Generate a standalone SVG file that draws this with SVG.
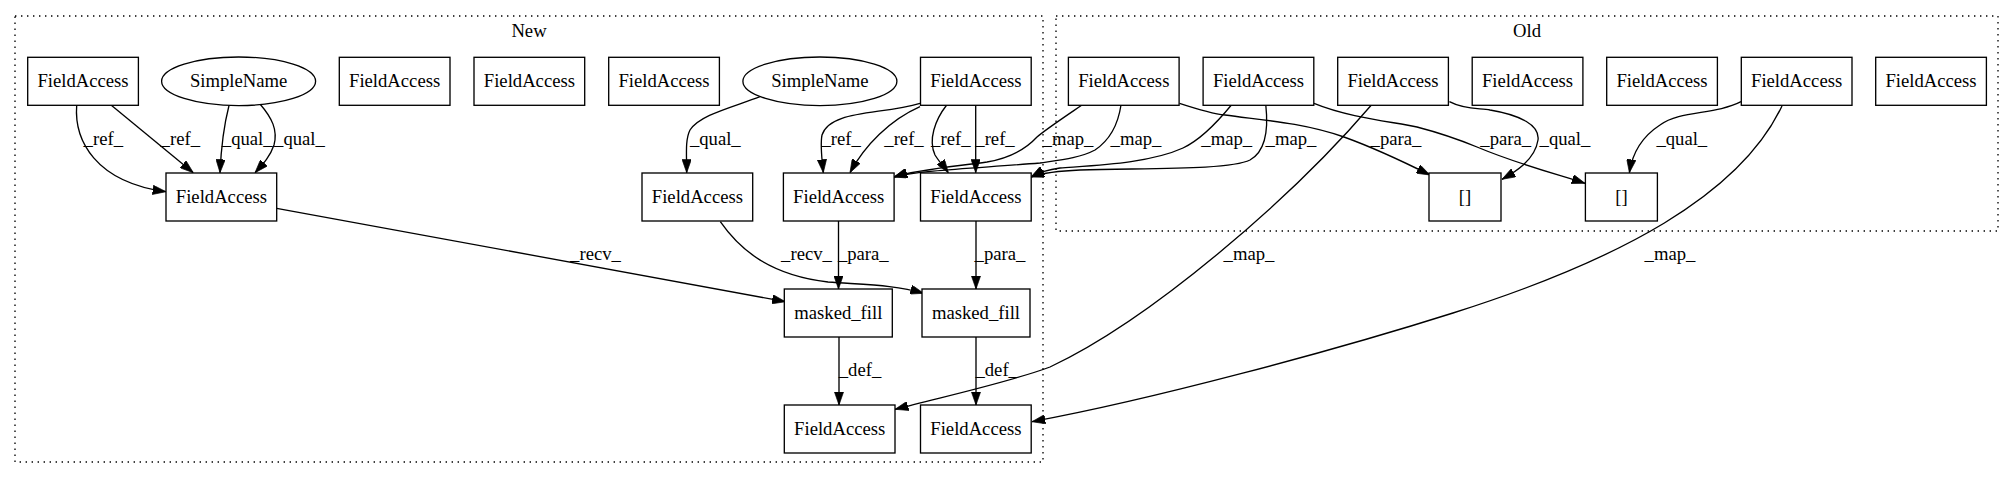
<svg xmlns="http://www.w3.org/2000/svg" width="2015" height="480" viewBox="0 0 2015 480">
<style>
  .n { fill: #fff; stroke: #000; stroke-width: 1.33; }
  .t { font-family: "Liberation Serif", Times, serif; font-size: 18.67px; text-anchor: middle; fill: #000; }
  .e { fill: none; stroke: #000; stroke-width: 1.33; marker-end: url(#ah); }
  .c { fill: none; stroke: #000; stroke-width: 1.33; stroke-dasharray: 1.4,4.6; }
</style>
<defs>
  <marker id="ah" viewBox="0 0 10 7" refX="10" refY="3.5" markerWidth="13.3" markerHeight="9.3" markerUnits="userSpaceOnUse" orient="auto">
    <path d="M0,0 L10,3.5 L0,7 z" fill="#000" stroke="#000" stroke-width="0.5"/>
  </marker>
</defs>
<rect width="2015" height="480" fill="#fff"/>

<g id="cluster_new">
  <rect class="c" x="15" y="16" width="1028" height="446"/>
  <text class="t" x="529" y="36.5">New</text>
</g>
<g id="cluster_old">
  <rect class="c" x="1056" y="16" width="942" height="215"/>
  <text class="t" x="1527" y="36.5">Old</text>
</g>

<g id="connectors">
  <path class="e" d="M76.7,105 C74,140 95,182 166,191.7"/>
  <path class="e" d="M111,105 L193.3,172.7"/>
  <path class="e" d="M229,105.5 C224,125 221,150 220,172.7"/>
  <path class="e" d="M260,104 C272,118 278,130 274,145 C270,157 262,165 255,172.7"/>
  <path class="e" d="M760,96.7 C730,108 700,115 690,130 C685,140 686.7,155 686.7,172.7"/>
  <path class="e" d="M920,103.3 C880,115 830,110 822,135 C820,145 822,160 823.3,172.7"/>
  <path class="e" d="M920,106.7 C890,120 865,145 850,172.7"/>
  <path class="e" d="M946.7,105 C935,120 928,140 935,155 C940,163 945,168 948.3,172.7"/>
  <path class="e" d="M975.7,105 L975.7,172.7"/>
  <path class="e" d="M276.7,208.3 L785.4,301.7"/>
  <path class="e" d="M720.3,221.7 C740,250 770,275 828,282 C870,285 895,285 923.6,293.3"/>
  <path class="e" d="M838.5,221 L838.5,289"/>
  <path class="e" d="M976,221 L976,289"/>
  <path class="e" d="M839,337 L839,405"/>
  <path class="e" d="M976,337 L976,405"/>
  <path class="e" d="M1082,105 C1060,120 1045,130 1037,137 C1025,150 1010,158 987,162 C950,167 915,170 894,177"/>
  <path class="e" d="M1121,105 C1118,125 1110,140 1095,150 C1080,158 1060,160 1040,163 C980,168 920,170 894,177"/>
  <path class="e" d="M1231.4,105 C1215,125 1200,140 1183,148 C1150,163 1100,165 1060,168 C1045,170 1038,173 1031,177"/>
  <path class="e" d="M1265.8,105 C1268,125 1268,150 1250,160 C1230,170 1150,168 1080,170 C1055,171 1040,174 1031,177"/>
  <path class="e" d="M1179.5,103.3 C1200,110 1215,114 1225,115 C1260,120 1300,122 1344,137 C1380,150 1410,165 1430,175"/>
  <path class="e" d="M1314,103.3 C1350,118 1395,122 1417,127 C1440,133 1460,140 1477,147 C1520,165 1560,175 1585,183.3"/>
  <path class="e" d="M1449.4,101.7 C1465,110 1480,108 1490,110 C1520,115 1540,125 1538,140 C1535,160 1515,172 1502,179.3"/>
  <path class="e" d="M1741,101.7 C1715,115 1680,110 1660,125 C1640,138 1632,155 1629.4,172.7"/>
  <path class="e" d="M1371.4,105 C1290,200 1150,320 1050,367 C1010,382 950,395 895,409.3"/>
  <path class="e" d="M1782,106 C1740,195 1620,260 1453,313 C1333,351 1150,400 1032,421.7"/>

  <text class="t" x="103.3" y="145">_ref_</text>
  <text class="t" x="180.3" y="145">_ref_</text>
  <text class="t" x="247.2" y="145">_qual_</text>
  <text class="t" x="299.5" y="145">_qual_</text>
  <text class="t" x="715.3" y="145">_qual_</text>
  <text class="t" x="841.2" y="145">_ref_</text>
  <text class="t" x="904" y="145">_ref_</text>
  <text class="t" x="950.8" y="145">_ref_</text>
  <text class="t" x="995" y="145">_ref_</text>
  <text class="t" x="1068" y="145">_map_</text>
  <text class="t" x="1136" y="145">_map_</text>
  <text class="t" x="1226.7" y="145">_map_</text>
  <text class="t" x="1291" y="145">_map_</text>
  <text class="t" x="1396" y="145">_para_</text>
  <text class="t" x="1505.7" y="145">_para_</text>
  <text class="t" x="1565" y="145">_qual_</text>
  <text class="t" x="1681.8" y="145">_qual_</text>
  <text class="t" x="595.5" y="260">_recv_</text>
  <text class="t" x="806.5" y="260">_recv_</text>
  <text class="t" x="863.3" y="260">_para_</text>
  <text class="t" x="1000" y="260">_para_</text>
  <text class="t" x="1249" y="260">_map_</text>
  <text class="t" x="1670" y="260">_map_</text>
  <text class="t" x="860" y="376">_def_</text>
  <text class="t" x="996.7" y="376">_def_</text>
</g>

<g id="n_new_fa1"><rect class="n" x="27.7" y="57.3" width="110.7" height="48"/><text class="t" x="83" y="87.3">FieldAccess</text></g>
<g id="n_new_sn1"><ellipse class="n" cx="238.6" cy="81.3" rx="77" ry="24.3"/><text class="t" x="238.6" y="87.3">SimpleName</text></g>
<g id="n_new_fa3"><rect class="n" x="339.3" y="57.3" width="110.7" height="48"/><text class="t" x="394.6" y="87.3">FieldAccess</text></g>
<g id="n_new_fa4"><rect class="n" x="474" y="57.3" width="110.7" height="48"/><text class="t" x="529.4" y="87.3">FieldAccess</text></g>
<g id="n_new_fa5"><rect class="n" x="608.7" y="57.3" width="110.7" height="48"/><text class="t" x="664" y="87.3">FieldAccess</text></g>
<g id="n_new_sn2"><ellipse class="n" cx="819.9" cy="81.3" rx="77" ry="24.3"/><text class="t" x="819.9" y="87.3">SimpleName</text></g>
<g id="n_new_fa6"><rect class="n" x="920.5" y="57.3" width="110.7" height="48"/><text class="t" x="975.9" y="87.3">FieldAccess</text></g>

<g id="n_new_a"><rect class="n" x="166" y="173" width="110.7" height="48"/><text class="t" x="221.4" y="203">FieldAccess</text></g>
<g id="n_new_b"><rect class="n" x="642" y="173" width="110.7" height="48"/><text class="t" x="697.4" y="203">FieldAccess</text></g>
<g id="n_new_c"><rect class="n" x="783.4" y="173" width="110.7" height="48"/><text class="t" x="838.7" y="203">FieldAccess</text></g>
<g id="n_new_d"><rect class="n" x="920.5" y="173" width="110.7" height="48"/><text class="t" x="975.9" y="203">FieldAccess</text></g>

<g id="n_mf1"><rect class="n" x="784.3" y="289" width="108" height="48"/><text class="t" x="838.3" y="319">masked_fill</text></g>
<g id="n_mf2"><rect class="n" x="922" y="289" width="108" height="48"/><text class="t" x="976" y="319">masked_fill</text></g>

<g id="n_bf1"><rect class="n" x="784.3" y="405" width="110.7" height="48"/><text class="t" x="839.7" y="435">FieldAccess</text></g>
<g id="n_bf2"><rect class="n" x="920.5" y="405" width="110.7" height="48"/><text class="t" x="975.9" y="435">FieldAccess</text></g>

<g id="n_old_1"><rect class="n" x="1068.4" y="57.3" width="110.7" height="48"/><text class="t" x="1123.8" y="87.3">FieldAccess</text></g>
<g id="n_old_2"><rect class="n" x="1203.1" y="57.3" width="110.7" height="48"/><text class="t" x="1258.5" y="87.3">FieldAccess</text></g>
<g id="n_old_3"><rect class="n" x="1337.7" y="57.3" width="110.7" height="48"/><text class="t" x="1393" y="87.3">FieldAccess</text></g>
<g id="n_old_4"><rect class="n" x="1472.2" y="57.3" width="110.7" height="48"/><text class="t" x="1527.5" y="87.3">FieldAccess</text></g>
<g id="n_old_5"><rect class="n" x="1606.7" y="57.3" width="110.7" height="48"/><text class="t" x="1662" y="87.3">FieldAccess</text></g>
<g id="n_old_6"><rect class="n" x="1741.3" y="57.3" width="110.7" height="48"/><text class="t" x="1796.6" y="87.3">FieldAccess</text></g>
<g id="n_old_7"><rect class="n" x="1875.7" y="57.3" width="110.7" height="48"/><text class="t" x="1931" y="87.3">FieldAccess</text></g>

<g id="n_old_arr1"><rect class="n" x="1429" y="173" width="72" height="48"/><text class="t" x="1465" y="203">[]</text></g>
<g id="n_old_arr2"><rect class="n" x="1585.4" y="173" width="72" height="48"/><text class="t" x="1621.4" y="203">[]</text></g>
</svg>
